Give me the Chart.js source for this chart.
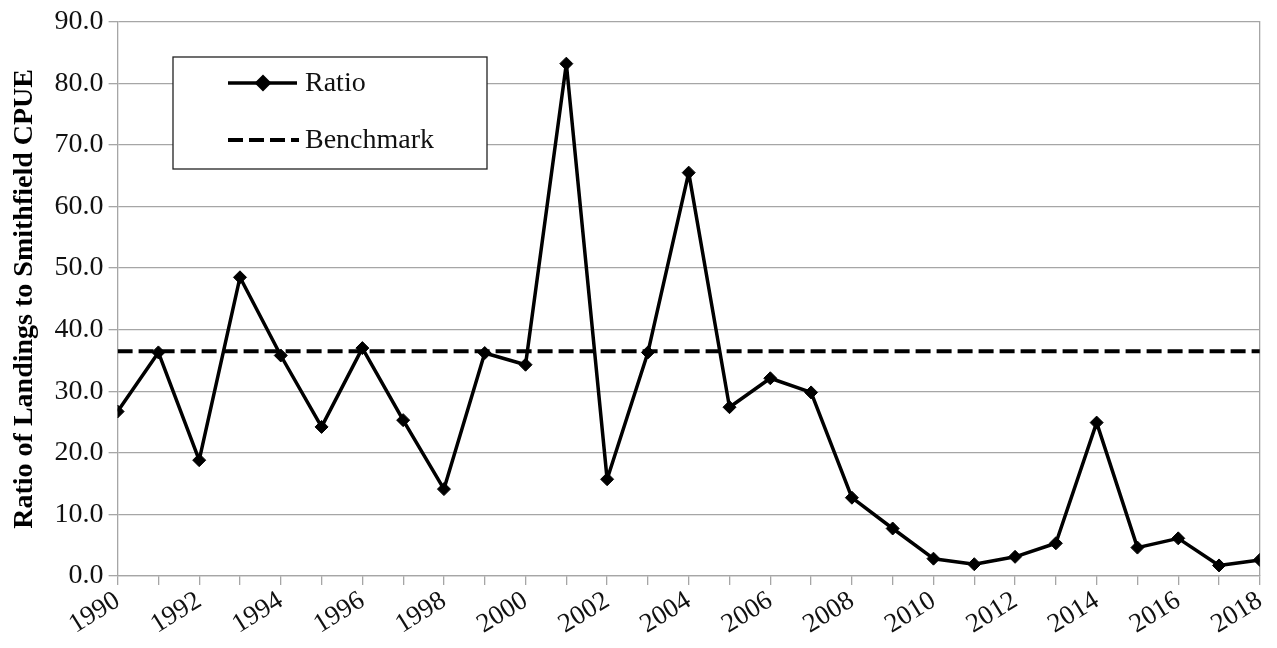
<!DOCTYPE html>
<html>
<head>
<meta charset="utf-8">
<script src="https://cdn.jsdelivr.net/npm/chart.js@4"></script>
<style>
	body { margin: 0; background: #fff; }
	#wrap { width: 1277px; height: 648px; }
</style>
</head>
<body>
<div id="wrap"><canvas id="lineChart"></canvas></div>
<script>
var years = [1990, 1991, 1992, 1993, 1994, 1995, 1996, 1997, 1998, 1999, 2000, 2001, 2002, 2003, 2004,
	2005, 2006, 2007, 2008, 2009, 2010, 2011, 2012, 2013, 2014, 2015, 2016, 2017, 2018]
var ratio = [26.7, 36.3, 18.8, 48.5, 35.8, 24.2, 37.0, 25.3, 14.1, 36.2, 34.3, 83.2, 15.7, 36.3, 65.5,
	27.4, 32.1, 29.8, 12.7, 7.7, 2.8, 1.9, 3.1, 5.3, 24.9, 4.6, 6.1, 1.7, 2.6]
var benchmark = 36.5
var yTicks = [0, 10, 20, 30, 40, 50, 60, 70, 80, 90]

var serif = "'Liberation Serif', 'Times New Roman', serif"
var grey = '#a6a6a6'

// legend box like the excel one, drawn inside the plot
var boxLegend = {
	id: 'boxLegend',
	afterDraw: function(chart) {
		var ctx = chart.ctx
		var x = 173, y = 57, w = 314, h = 112
		ctx.save()
		ctx.fillStyle = '#fff'
		ctx.fillRect(x, y, w, h)
		ctx.strokeStyle = '#222'
		ctx.lineWidth = 1.3
		ctx.strokeRect(x, y, w, h)

		ctx.strokeStyle = '#000'
		ctx.lineWidth = 3.5
		ctx.beginPath()
		ctx.moveTo(228, 83)
		ctx.lineTo(297, 83)
		ctx.stroke()
		Chart.helpers.drawPoint(ctx, { pointStyle: 'rectRot', radius: 6, borderWidth: 1 }, 263, 83)
		ctx.fillStyle = '#000'
		ctx.fill()

		ctx.lineWidth = 4
		ctx.setLineDash([15, 6])
		ctx.beginPath()
		ctx.moveTo(228, 140)
		ctx.lineTo(299, 140)
		ctx.stroke()
		ctx.setLineDash([])

		ctx.fillStyle = '#111'
		ctx.font = '28px ' + serif
		ctx.textBaseline = 'middle'
		ctx.fillText(chart.data.datasets[0].label, 305, 84)
		ctx.fillText(chart.data.datasets[1].label, 305, 141)
		ctx.restore()
	}
}

window.onload = function() {
	var ctx = document.getElementById('lineChart').getContext('2d')
	new Chart(ctx, {
		type: 'line',
		data: {
			datasets: [{
				label: 'Ratio',
				data: years.map(function(yr, i) { return { x: yr, y: ratio[i] } }),
				borderColor: '#000',
				backgroundColor: '#000',
				borderWidth: 3.5,
				borderJoinStyle: 'round',
				pointStyle: 'rectRot',
				pointRadius: 6.5,
				pointBorderWidth: 1,
				tension: 0
			}, {
				label: 'Benchmark',
				data: [{ x: years[0], y: benchmark }, { x: years[years.length - 1], y: benchmark }],
				borderColor: '#000',
				borderWidth: 4,
				borderDash: [15, 6],
				pointRadius: 0
			}]
		},
		options: {
			responsive: true,
			maintainAspectRatio: false,
			animation: false,
			layout: { padding: { left: 4, right: 13, top: 10, bottom: 7 } },
			plugins: {
				legend: { display: false },
				tooltip: { enabled: false }
			},
			scales: {
				x: {
					type: 'linear',
					min: years[0],
					max: years[years.length - 1],
					afterBuildTicks: function(axis) {
						axis.ticks = years.map(function(yr) { return { value: yr } })
					},
					ticks: {
						autoSkip: false,
						minRotation: 32,
						maxRotation: 32,
						color: '#111',
						font: { family: serif, size: 27 },
						padding: 0,
						callback: function(v) { return v % 2 == 0 ? String(v) : '' }
					},
					grid: { drawOnChartArea: false, color: grey, lineWidth: 1.3, tickLength: 9 },
					border: { color: grey, width: 1.3 }
				},
				y: {
					min: 0,
					max: 90,
					afterBuildTicks: function(axis) {
						axis.ticks = yTicks.map(function(v) { return { value: v } })
					},
					ticks: {
						color: '#111',
						font: { family: serif, size: 28 },
						padding: 5,
						callback: function(v) { return v.toFixed(1) }
					},
					grid: { color: grey, lineWidth: 1.3, tickLength: 9 },
					border: { color: grey, width: 1.3 },
					title: {
						display: true,
						text: 'Ratio of Landings to Smithfield CPUE',
						color: '#000',
						font: { family: serif, size: 28, weight: 'bold' },
						padding: { top: 4, bottom: 8 }
					}
				},
				yRight: {
					position: 'right',
					min: 0,
					max: 90,
					ticks: { display: false },
					grid: { drawOnChartArea: false, drawTicks: false },
					border: { color: grey, width: 1.3 }
				}
			}
		},
		plugins: [boxLegend]
	})
}
</script>
</body>
</html>
